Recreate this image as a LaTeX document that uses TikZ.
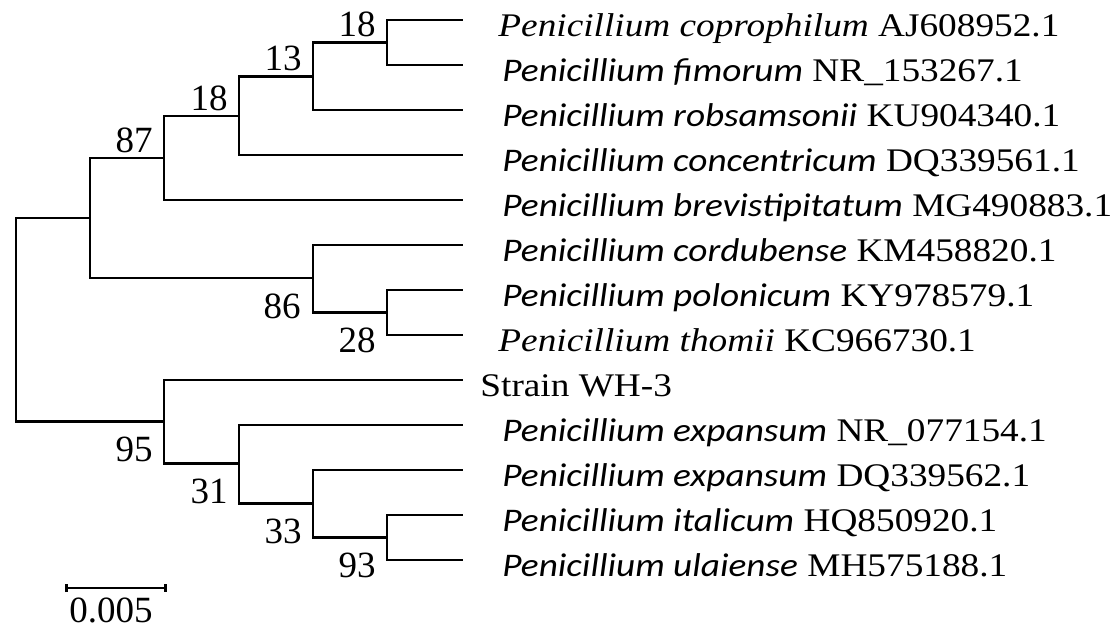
\documentclass[tikz,border=0pt]{standalone}
\usepackage{fontspec}
\setmainfont{Liberation Serif}
\newfontfamily\accfont{Liberation Serif}[FakeStretch=1.13]
\newfontfamily\spfont{Carlito}[FakeStretch=1.13]
\usetikzlibrary{positioning,arrows.meta}
\newcommand{\spc}[1]{{\spfont\itshape #1}}
\newcommand{\spt}[1]{{\accfont\itshape #1}}
\tikzset{
  branch/.style={line width=1.3pt},
  boot/.style={inner sep=0pt, font=\fontsize{18.5}{18.5}\selectfont},
  leaf/.style={anchor=base west, inner sep=0pt, font=\accfont\fontsize{16.5}{16.5}\selectfont},
}
\begin{document}
\begin{tikzpicture}[x=0.5pt,y=-0.5pt,line cap=butt,line join=miter]
	\useasboundingbox (0,0) rectangle (1117,627);
	% leaf tips
	\foreach \i in {1,...,13}
		\coordinate (t\i) at (463,{20+45*(\i-1)});
	% inner nodes
	\coordinate (a) at (387,42.5);
	\coordinate (b) at (313,76.5);
	\coordinate (c) at (239,116);
	\coordinate (d) at (164,158);
	\coordinate (e) at (387,312.5);
	\coordinate (f) at (313,278);
	\coordinate (g) at (90,218);
	\coordinate (h) at (387,537.5);
	\coordinate (i) at (313,503.5);
	\coordinate (j) at (239,463.5);
	\coordinate (k) at (164,421.5);
	\coordinate (root) at (16,320);
	% branches
	\draw[branch] (root) |- (g) (root) |- (k)
		(g) |- (d) (g) |- (f)
		(d) |- (c) (d) |- (t5)
		(c) |- (b) (c) |- (t4)
		(b) |- (a) (b) |- (t3)
		(a) |- (t1) (a) |- (t2)
		(f) |- (t6) (f) |- (e)
		(e) |- (t7) (e) |- (t8)
		(k) |- (t9) (k) |- (j)
		(j) |- (t10) (j) |- (i)
		(i) |- (t11) (i) |- (h)
		(h) |- (t12) (h) |- (t13);
	% bootstrap values
	\node[boot, above left=2.5pt and 5.5pt of a] (ba) {18};
	\node[boot, above left=2.5pt and 5.5pt of b] (bb) {13};
	\node[boot, above left=2.5pt and 5.5pt of c] (bc) {18};
	\node[boot, above left=2.5pt and 5.5pt of d] (bd) {87};
	\node[boot, below left=7.5pt and 6pt of f] (bf) {86};
	\node[boot, below left=7.5pt and 5.5pt of e] (be) {28};
	\node[boot, below left=7.5pt and 5.5pt of k] (bk) {95};
	\node[boot, below left=7.5pt and 5.5pt of j] (bj) {31};
	\node[boot, below left=7.5pt and 5.5pt of i] (bi) {33};
	\node[boot, below left=7.5pt and 5.5pt of h] (bh) {93};
	% taxa
	\node[leaf] (s1) at (498,36) {\spt{Penicillium coprophilum} AJ608952.1};
	\node[leaf] (s2) at (502,81) {\spc{Penicillium fimorum} NR\_153267.1};
	\node[leaf] (s3) at (502,126) {\spc{Penicillium robsamsonii} KU904340.1};
	\node[leaf] (s4) at (502,171) {\spc{Penicillium concentricum} DQ339561.1};
	\node[leaf] (s5) at (502,216) {\spc{Penicillium brevistipitatum} MG490883.1};
	\node[leaf] (s6) at (502,261) {\spc{Penicillium cordubense} KM458820.1};
	\node[leaf] (s7) at (502,306) {\spc{Penicillium polonicum} KY978579.1};
	\node[leaf] (s8) at (498,351) {\spt{Penicillium thomii} KC966730.1};
	\node[leaf] (s9) at (480,396) {Strain WH-3};
	\node[leaf] (s10) at (502,441) {\spc{Penicillium expansum} NR\_077154.1};
	\node[leaf] (s11) at (502,486) {\spc{Penicillium expansum} DQ339562.1};
	\node[leaf] (s12) at (502,531) {\spc{Penicillium italicum} HQ850920.1};
	\node[leaf] (s13) at (502,576) {\spc{Penicillium ulaiense} MH575188.1};
	% scale bar
	\coordinate (sb1) at (65,588);
	\coordinate (sb2) at (167,588);
	\draw[branch, {Bar[width=4pt]}-{Bar[width=4pt]}] (sb1) -- (sb2);
	\node[boot, anchor=north] (sbl) at (111,597) {0.005};
\end{tikzpicture}
\end{document}
